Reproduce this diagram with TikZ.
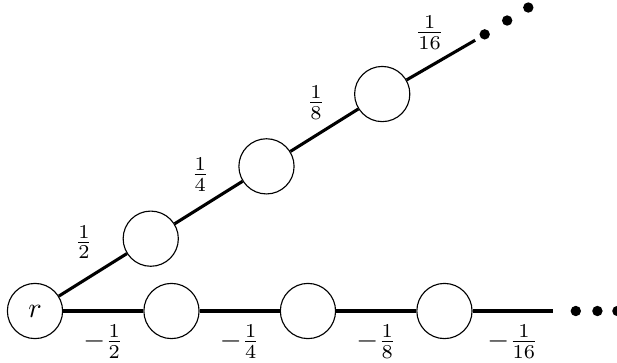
\documentclass[tikz,border=0pt]{standalone}
\usepackage{amsfonts,amssymb}
\usepackage{mathtools}
\usepackage{tikz}
\usetikzlibrary{calc,positioning}
\usetikzlibrary{math}

\begin{document}
\begin{tikzpicture}[vertex/.style={draw, circle, thin, minimum size=6.9mm, inner sep=0pt},
		edge/.style={line width=1.1pt},
		bigdot/.style={fill, circle, inner sep=0pt, minimum size=3.7pt}]
				 \useasboundingbox (0mm,0mm) rectangle (77.125mm,45.25mm);
				 %\draw[color=gray,step=1mm, help lines,opacity=0.3] (0pt,0pt) grid (77mm,45mm); %help grids
				\tikzmath{
								let \d =17.06mm;
				};
				 \coordinate (R0) at (4.375mm,6.375mm);
				 % bottom row
				 \coordinate (B1) at ($(R0)+(\d,0)$);
				 \coordinate (B2) at ($(R0)+(2*\d,0)$);
				 \coordinate (B3) at ($(R0)+(3*\d,0)$);
				 \coordinate (BE) at ($(R0)+(64.8mm,0)$);
				 % upper row
				 \coordinate (U1) at ($(R0)+(32:\d)$);
				 \coordinate (U2) at ($(R0)+(32:2*\d)$);
				 \coordinate (U3) at ($(R0)+(32:3*\d)$);
				 \coordinate (UE) at ($(R0)+(31.6:64.6mm)$);
				 % Drawing the nodes
				 \node[vertex] (r) at (R0) {$r$};
				 \node[vertex] (b1) at (B1) {};
				 \node[vertex] (b2) at (B2) {};
				 \node[vertex] (b3) at (B3) {};
				 \node[vertex] (u1) at (U1) {};
				 \node[vertex] (u2) at (U2) {};
				 \node[vertex] (u3) at (U3) {};
				 % lines...
				 \draw[edge] (r)--(b1) node[midway, below=1pt] {$-\frac{1}{2}$};
				 \draw[edge] (b1)--(b2) node[midway, below=1pt] {$-\frac{1}{4}$};
				 \draw[edge] (b2)--(b3) node[midway, below=1pt] {$-\frac{1}{8}$};
				 \draw[edge] (b3)--(BE) node[midway, below=1pt] {$-\frac{1}{16}$};
				 \draw[edge] (r)--(u1) node[midway, above, xshift=-3.2pt, yshift=1.8pt] {$\frac{1}{2}$};
				 \draw[edge] (u1)--(u2) node[midway, above, xshift=-3pt] {$\frac{1}{4}$};
				 \draw[edge] (u2)--(u3) node[midway, above, xshift=-3pt] {$\frac{1}{8}$};
				 \draw[edge] (u3)--(UE) node[midway, above, xshift=-4pt] {$\frac{1}{16}$};
				 % dots
				 \node[bigdot] (bd1) at ($(R0)+(67.6mm,0)$) {};
				 \node[bigdot] (bd2) at ($(R0)+(70.3mm,0)$) {};
				 \node[bigdot] (bd3) at ($(R0)+(72.8mm,0)$) {};
				 \node[bigdot] (ud1) at ($(R0)+(31.6:66mm)$) {};
				 \node[bigdot] (ud2) at ($(R0)+(31.6:69.3mm)$) {};
				 \node[bigdot] (ud3) at ($(R0)+(31.6:72.4mm)$) {};
\end{tikzpicture}
\end{document}
